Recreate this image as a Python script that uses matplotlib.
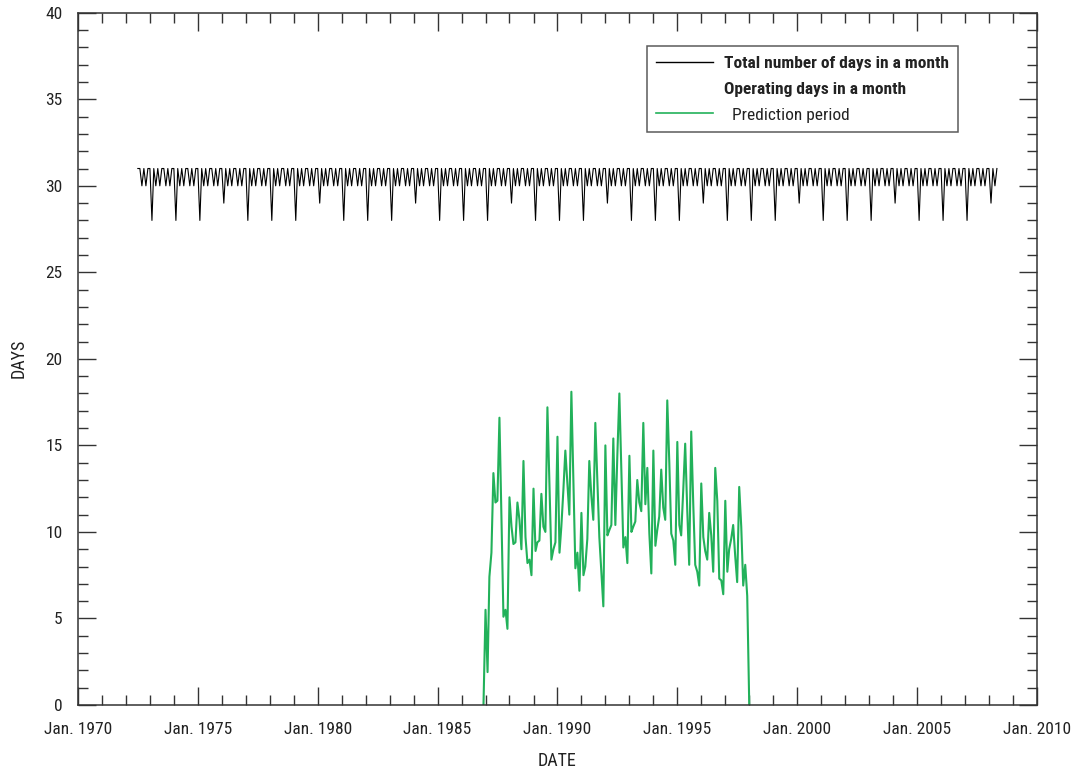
import numpy as np
import pandas as pd
import matplotlib
matplotlib.use("Agg")
import matplotlib.pyplot as plt
import matplotlib.dates as mdates
from matplotlib.lines import Line2D
from matplotlib.ticker import MultipleLocator, FixedLocator

plt.rcParams['font.family'] = ['Roboto Condensed', 'Roboto', 'DejaVu Sans']

# Total days in each month, July 1972 - May 2008
total_dates = pd.date_range("1972-07-01", "2008-05-01", freq="MS")
total_days = total_dates.days_in_month

# Operating days in a month, prediction period Dec 1986 - Jan 1998
operating_start = "1986-12-01"
operating_days = [
    0.0, 5.5, 1.9, 7.4, 8.8, 13.4, 11.7, 11.8, 16.6, 10.8,
    5.1, 5.5, 4.4, 12.0, 10.3, 9.3, 9.4, 11.7, 10.7, 9.0,
    14.1, 9.7, 8.2, 8.4, 7.5, 12.5, 8.9, 9.4, 9.5, 12.2,
    10.3, 10.0, 17.2, 12.8, 8.4, 9.0, 9.4, 15.5, 8.8, 10.3,
    12.4, 14.7, 12.8, 11.0, 18.1, 13.0, 7.9, 8.8, 6.6, 11.1,
    7.5, 8.0, 9.6, 14.1, 12.1, 10.7, 16.3, 13.0, 9.7, 7.7,
    5.7, 15.0, 9.8, 10.1, 10.4, 15.4, 10.4, 14.4, 18.0, 13.5,
    9.1, 9.7, 8.2, 14.4, 10.0, 10.3, 10.6, 13.0, 11.7, 11.2,
    16.3, 11.6, 13.7, 9.9, 7.6, 14.7, 9.2, 10.1, 10.9, 13.6,
    11.4, 10.7, 17.6, 14.0, 9.9, 9.5, 8.1, 15.2, 10.4, 9.8,
    12.4, 15.1, 11.3, 8.1, 15.8, 11.6, 8.1, 7.7, 6.9, 12.8,
    9.7, 8.9, 8.4, 11.1, 9.8, 7.7, 13.7, 11.8, 7.3, 7.2,
    6.4, 11.8, 7.7, 9.0, 9.6, 10.4, 8.6, 7.1, 12.6, 10.3,
    6.9, 8.1, 6.3, 0.0,
]
operating_dates = pd.date_range(operating_start, periods=len(operating_days), freq="MS")

x_tick_years = [1970, 1975, 1980, 1985, 1990, 1995, 2000, 2005, 2010]
x_tick_labels = [f"Jan. {y}" for y in x_tick_years]

green = "#22b15a"
dark = "#333333"

fig = plt.figure(figsize=(10.74, 7.73), dpi=100)
ax = fig.add_axes([0.0726, 0.088, 0.8929, 0.8955])

ax.plot(total_dates, total_days, color="black", lw=0.8)
ax.plot(operating_dates, operating_days, color=green, lw=1.5)

ax.set_xlim(pd.Timestamp("1970-01-01"), pd.Timestamp("2010-01-01"))
ax.set_ylim(0, 40)

major_x = [mdates.date2num(pd.Timestamp(f"{y}-01-01")) for y in x_tick_years]
minor_x = [mdates.date2num(pd.Timestamp(f"{y}-01-01")) for y in range(1970, 2011)]
ax.xaxis.set_major_locator(FixedLocator(major_x))
ax.xaxis.set_minor_locator(FixedLocator(minor_x))
ax.set_xticklabels(x_tick_labels)
ax.yaxis.set_major_locator(MultipleLocator(5))
ax.yaxis.set_minor_locator(MultipleLocator(1))

ax.tick_params(which="both", direction="in", top=True, right=True, width=1.0,
               color=dark, labelsize=12.5, labelcolor="#222222")
ax.tick_params(which="major", length=13)
ax.tick_params(which="minor", length=7)
ax.tick_params(axis="x", which="major", pad=12)
ax.tick_params(axis="y", which="major", pad=11)
for s in ax.spines.values():
    s.set_linewidth(1.1)
    s.set_color(dark)

ax.set_xlabel("DATE", fontsize=13, labelpad=11, color="#222222")
ax.set_ylabel("DAYS", fontsize=13, labelpad=13, color="#222222")

handles = [Line2D([], [], color="black", lw=1.0),
           Line2D([], [], color="none"),
           Line2D([], [], color=green, lw=1.2)]
labels = ["Total number of days in a month", "Operating days in a month",
          "  Prediction period"]
leg = ax.legend(handles, labels, loc="upper right", bbox_to_anchor=(0.918, 0.952),
                fontsize=12.5, frameon=True, fancybox=False, edgecolor=dark,
                handlelength=3.3, handletextpad=0.6, borderpad=0.55,
                labelspacing=0.62, borderaxespad=0)
leg.get_frame().set_linewidth(1.1)
for t in leg.get_texts():
    t.set_color("#222222")
leg.get_texts()[0].set_fontweight("bold")
leg.get_texts()[1].set_fontweight("bold")

fig.savefig("out.png", dpi=100)
